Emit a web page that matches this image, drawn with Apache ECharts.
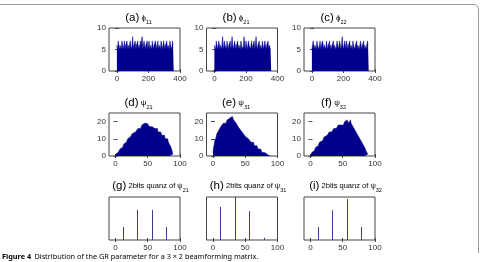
<!DOCTYPE html>
<html>
<head>
<meta charset="utf-8">
<script src="https://cdn.jsdelivr.net/npm/echarts@6/dist/echarts.min.js"></script>
<style>
html,body{margin:0;padding:0;background:#fff;}
#c{width:481px;height:262px;}
</style>
</head>
<body>
<div id="c"></div>
<script>
// ---------- data ----------
const phiBinWidth = 4;   // degrees per bin, bins start at 0
const psiBinWidth = 1;   // degrees per bin, bins start at 0

const phi11 = [6,5,7,6,5,6,6,5,7,6, 5,6,7,5,6,6,7,5,6,5, 6,7,6,5,6,8,5,6,6,7, 5,6,6,7,5,6,5,7,6,6, 8,5,6,7,6,5,6,6,7,5, 6,7,5,6,6,5,7,6,5,6, 6,7,6,5,6,7,5,6,6,5, 7,6,5,6,7,6,5,6,6,7, 5,6,6,5,7,6,6,5,7,6];
const phi21 = [6,6,5,7,6,5,6,7,6,5, 6,5,6,8,6,5,7,6,6,5, 7,6,5,6,6,7,5,6,8,6, 5,6,7,6,5,6,6,7,5,6, 6,5,7,6,6,5,6,8,6,5, 7,6,5,6,7,6,6,5,6,7, 5,6,6,7,5,6,8,6,5,6, 6,7,5,6,6,5,7,6,5,6, 7,6,5,6,6,7,5,6,6,5];
const phi22 = [5,6,7,6,5,6,6,5,7,6, 6,5,6,7,5,6,6,7,6,5, 6,6,5,7,6,5,6,6,7,5, 6,5,6,6,7,5,6,6,5,6, 7,6,5,6,7,6,5,6,8,6, 5,6,7,6,5,7,6,5,6,6, 7,5,6,6,5,7,6,6,5,6, 6,7,5,6,6,5,6,7,6,5, 6,6,7,5,6,6,5,6,7,6];

const psi21 = [1,1,2,2,3,3,3,4,4,5, 5,6,6,7,7,8,8,9,9,10, 10,11,11,12,11,12,13,12,13,14, 14,13,15,14,15,16,15,16,17,16, 17,18,17,19,18,19,20,19,18,19, 18,19,18,17,18,17,16,17,18,16, 17,16,15,16,16,15,14,15,14,13, 14,13,12,13,12,11,12,10,11,10, 10,9,8,8,7,6,5,4,3,1];
const psi31 = [2,5,7,9,10,11,13,13,14,15, 15,16,17,16,18,17,19,18,19,20, 19,20,21,20,22,21,22,23,21,22, 23,22,21,22,20,21,19,20,18,17, 18,16,17,15,16,14,15,13,12,13, 12,11,12,10,11,10,9,10,9,8, 8,9,7,8,6,7,6,5,6,5, 4,5,4,3,4,3,2,3,2,2, 1,2,1,1,0,1,0,0,0,0];
const psi32 = [0,1,2,2,3,3,4,4,5,5, 6,6,7,7,8,8,8,9,9,10, 10,11,10,11,12,12,13,12,13,14, 13,14,15,14,15,15,16,15,16,17, 16,17,16,18,17,18,17,18,19,18, 19,18,19,20,19,20,19,21,20,19, 20,19,21,19,20,18,17,18,16,15, 16,14,13,14,12,11,12,10,9,10, 8,7,6,6,5,4,3,3,2,1];

const quantLevels = [11.25, 33.75, 56.25, 78.75];
const quant21 = [150, 350, 350, 150];
const quant31 = [385, 500, 335, 25];
const quant32 = [150, 345, 475, 150];

const phiXTicks = [0, 200, 400];
const phiYTicks = [0, 5, 10];
const psiXTicks = [0, 50, 100];
const psiYTicks = [0, 10, 20];

const panelLetters = ['a','b','c','d','e','f','g','h','i'];
const panelSymbols = ['ϕ','ϕ','ϕ','ψ','ψ','ψ','ψ','ψ','ψ'];
const panelSubs = ['11','21','22','21','31','32','21','31','32'];
const quantPrefix = '2bits quanz of ';

const captionBold = 'Figure 4';
const captionText = 'Distribution of the GR parameter for a 3 × 2 beamforming matrix.';

// ---------- layout ----------
const colLeft = [109, 206.5, 304];
const rowTop = [28, 113, 197];
const boxW = 71, boxH = 43;
const navy = '#00008c';
const stemColor = '#3c3c98';
const axisColor = '#444';
const labelColor = '#333';
const fontFam = '"Liberation Sans", Arial, sans-serif';

const chart = echarts.init(document.getElementById('c'), null, {renderer: 'canvas'});

const grids = [], xAxes = [], yAxes = [], series = [], graphics = [];

function stepData(counts, bw) {
  const d = counts.map((c, i) => [i * bw, c]);
  d.push([counts.length * bw, counts[counts.length - 1]]);
  return d;
}

const panels = [
  {kind:'hist', counts: phi11, bw: phiBinWidth, xr:[-50,400], yr:[0,10], xt: phiXTicks, yt: phiYTicks},
  {kind:'hist', counts: phi21, bw: phiBinWidth, xr:[-50,400], yr:[0,10], xt: phiXTicks, yt: phiYTicks},
  {kind:'hist', counts: phi22, bw: phiBinWidth, xr:[-50,400], yr:[0,10], xt: phiXTicks, yt: phiYTicks},
  {kind:'hist', counts: psi21, bw: psiBinWidth, xr:[-10,100], yr:[0,25], xt: psiXTicks, yt: psiYTicks},
  {kind:'hist', counts: psi31, bw: psiBinWidth, xr:[-10,100], yr:[0,25], xt: psiXTicks, yt: psiYTicks},
  {kind:'hist', counts: psi32, bw: psiBinWidth, xr:[-10,100], yr:[0,25], xt: psiXTicks, yt: psiYTicks},
  {kind:'stem', counts: quant21, xr:[-10,100], yr:[0,500], xt: psiXTicks, yt: null},
  {kind:'stem', counts: quant31, xr:[-10,100], yr:[0,500], xt: psiXTicks, yt: null},
  {kind:'stem', counts: quant32, xr:[-10,100], yr:[0,500], xt: psiXTicks, yt: null}
];

panels.forEach((p, k) => {
  const r = Math.floor(k / 3), c = k % 3;
  const left = colLeft[c], top = rowTop[r];
  grids.push({left: left, top: top, width: boxW, height: boxH, show: true,
    borderColor: axisColor, borderWidth: 1, backgroundColor: 'transparent', containLabel: false});
  const xi = xAxes.length, yi = yAxes.length;
  const tickCommon = {show: true, inside: true, length: 2, lineStyle: {color: axisColor, width: 1}};
  const labelCommon = {color: labelColor, fontSize: 8, fontFamily: fontFam};
  xAxes.push({type: 'value', gridIndex: k, min: p.xr[0], max: p.xr[1], position: 'bottom',
    axisLine: {show: false}, splitLine: {show: false},
    axisTick: Object.assign({customValues: p.xt}, tickCommon),
    axisLabel: Object.assign({show: true, margin: 4, customValues: p.xt}, labelCommon)});
  xAxes.push({type: 'value', gridIndex: k, min: p.xr[0], max: p.xr[1], position: 'top',
    axisLine: {show: false}, splitLine: {show: false},
    axisTick: Object.assign({customValues: p.xt}, tickCommon),
    axisLabel: {show: false}});
  yAxes.push({type: 'value', gridIndex: k, min: p.yr[0], max: p.yr[1], position: 'left',
    axisLine: {show: false}, splitLine: {show: false},
    axisTick: p.yt ? Object.assign({customValues: p.yt}, tickCommon) : {show: false},
    axisLabel: p.yt ? Object.assign({show: true, margin: 3, customValues: p.yt}, labelCommon) : {show: false}});
  yAxes.push({type: 'value', gridIndex: k, min: p.yr[0], max: p.yr[1], position: 'right',
    axisLine: {show: false}, splitLine: {show: false},
    axisTick: p.yt ? Object.assign({customValues: p.yt}, tickCommon) : {show: false},
    axisLabel: {show: false}});

  if (p.kind === 'hist') {
    series.push({type: 'line', xAxisIndex: xi, yAxisIndex: yi, step: 'end', symbol: 'none',
      data: stepData(p.counts, p.bw), silent: true, animation: false,
      lineStyle: {color: navy, width: 0.5}, areaStyle: {color: navy, opacity: 1}});
  } else {
    series.push({type: 'custom', xAxisIndex: xi, yAxisIndex: yi, silent: true, animation: false,
      data: quantLevels.map((q, j) => [q, p.counts[j]]),
      renderItem: function (params, api) {
        const a = api.coord([api.value(0), 0]);
        const b = api.coord([api.value(0), api.value(1)]);
        const x = Math.round(a[0]) + 0.5;
        return {type: 'line', shape: {x1: x, y1: a[1], x2: x, y2: b[1]},
          style: {stroke: stemColor, lineWidth: 1}};
      }});
  }

  let txt;
  if (p.kind === 'hist') {
    txt = '{p|(' + panelLetters[k] + ')} {g|' + panelSymbols[k] + '}{s|' + panelSubs[k] + '}';
  } else {
    txt = '{p|(' + panelLetters[k] + ')} {t|' + quantPrefix + panelSymbols[k] + '}{s|' + panelSubs[k] + '}';
  }
  const rich = {
    p: {fontSize: 11.5, fontFamily: fontFam, color: '#222', lineHeight: 14},
    g: {fontSize: 8, fontFamily: fontFam, color: '#222', lineHeight: 14},
    t: {fontSize: 7.5, fontFamily: fontFam, color: '#222', lineHeight: 14},
    s: {fontSize: 5.5, fontFamily: fontFam, color: '#222', lineHeight: 5, verticalAlign: 'bottom'}
  };
  const cx = left + boxW / 2 + (p.kind === 'hist' ? -6 : 6);
  const cy = [18, 103, 186][r];
  graphics.push({type: 'text', x: cx, y: cy, silent: true,
    style: {text: txt, rich: rich, align: 'center', verticalAlign: 'middle', font: '8px ' + fontFam}});
});

// frame (top and right edges with rounded corner)
graphics.push({type: 'line', silent: true, shape: {x1: -2, y1: 4.5, x2: 474, y2: 4.5},
  style: {stroke: '#9a9a9a', lineWidth: 1}});
graphics.push({type: 'arc', silent: true,
  shape: {cx: 474, cy: 9, r: 4.5, startAngle: -Math.PI / 2, endAngle: 0, clockwise: true},
  style: {stroke: '#9a9a9a', lineWidth: 1, fill: 'none'}});
graphics.push({type: 'line', silent: true, shape: {x1: 478.5, y1: 9, x2: 478.5, y2: 253},
  style: {stroke: '#9a9a9a', lineWidth: 1}});

// caption
graphics.push({type: 'text', x: 2, y: 257, silent: true,
  style: {text: '{b|' + captionBold + '} {n|' + captionText + '}', verticalAlign: 'middle', align: 'left',
    rich: {b: {fontSize: 7.3, fontWeight: 'bold', fontFamily: '"Noto Sans", sans-serif', color: '#111'},
           n: {fontSize: 7.3, fontFamily: '"Noto Sans", sans-serif', color: '#111'}}}});

chart.setOption({
  animation: false,
  backgroundColor: '#fff',
  grid: grids,
  xAxis: xAxes,
  yAxis: yAxes,
  series: series,
  graphic: graphics
});
</script>
</body>
</html>
